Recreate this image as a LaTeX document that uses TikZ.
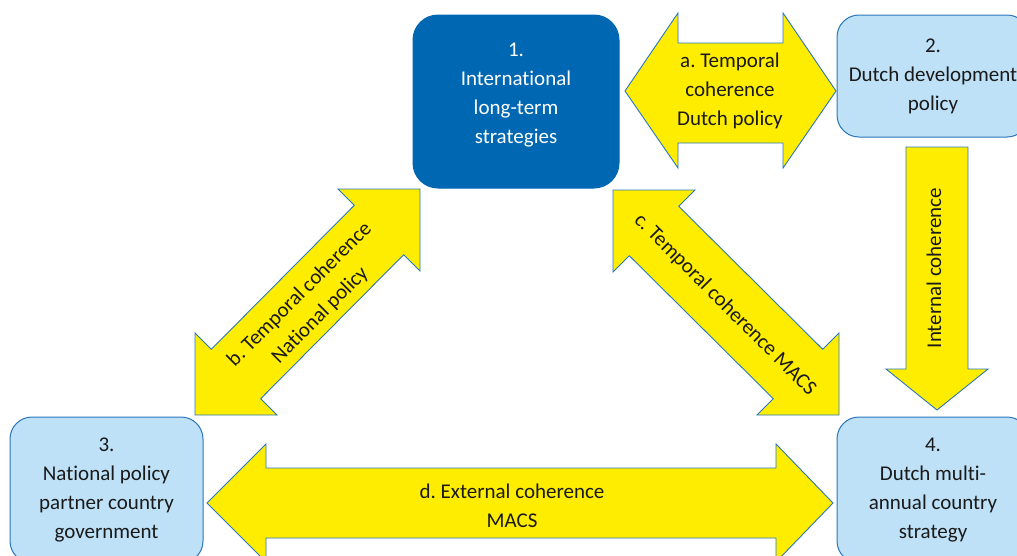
\documentclass[tikz,border=0pt]{standalone}
\usepackage{fontspec}
\setmainfont{Carlito}[Ligatures=NoCommon]
\frenchspacing
\definecolor{yel}{HTML}{FFED00}
\definecolor{edge}{HTML}{2A76BE}
\definecolor{dkblue}{HTML}{0067B3}
\definecolor{ltblue}{HTML}{BEE1F7}
\definecolor{txt}{HTML}{1A1A1A}
\tikzset{
  blockarrow/.style={fill=yel, draw=edge, line width=0.9pt, line join=miter},
  lightbox/.style={rectangle, rounded corners=22pt, fill=ltblue, draw=edge, line width=1pt, align=center, text=txt, inner sep=0pt},
  darkbox/.style={rectangle, rounded corners=25pt, fill=dkblue, draw=dkblue, line width=1pt, align=center, text=white, inner sep=0pt},
  lbl/.style={align=center, text=txt, inner sep=0pt},
}
\begin{document}
\begin{tikzpicture}[x=1pt,y=-1pt,font=\fontsize{21}{29}\selectfont]
\useasboundingbox (0,0) rectangle (1017,555);
\clip (0,0) rectangle (1017,555);
% boxes
\node[darkbox, minimum width=206pt, minimum height=173pt] (b1) at (516,101.5) {};
\node[text=white, align=center, inner sep=0pt] (t1) at (516,95) {1.\\International\\long-term\\strategies};
\node[lightbox, minimum width=192pt, minimum height=122pt] (b2) at (933,76) {2.\\Dutch development\\policy};
\node[lightbox, minimum width=193pt, minimum height=146pt] (b3) at (106.5,490) {3.\\National policy\\partner country\\government};
\node[lightbox, minimum width=192pt, minimum height=146pt] (b4) at (933,490) {4.\\Dutch multi-\\annual country\\strategy};
% arrow a
\draw[blockarrow] (625,91) -- (678,13) -- (678,43) -- (783,43) -- (783,13) -- (836,91) -- (783,168) -- (783,143) -- (678,143) -- (678,168) -- cycle;
\node[lbl] (ta) at (730,91) {a. Temporal\\coherence\\Dutch policy};
% arrow d
\draw[blockarrow] (207,503) -- (266,444) -- (266,468) -- (776,468) -- (776,444) -- (833,503) -- (776,562) -- (776,538) -- (266,538) -- (266,562) -- cycle;
\node[lbl] (td) at (512,506) {d. External coherence\\MACS};
% arrow b
\draw[blockarrow] (420,189) -- (420,271) -- (403.7,254.7) -- (260.7,398.7) -- (277,415) -- (195,415) -- (195,333) -- (211.3,349.3) -- (354.3,205.3) -- (338,189) -- cycle;
\node[lbl, rotate=45] (tb) at (310,305) {b. Temporal coherence\\National policy};
% arrow c
\draw[blockarrow] (613,190) -- (695,190) -- (678.7,206.3) -- (822.7,349.3) -- (839,333) -- (839,415) -- (757,415) -- (773.3,398.7) -- (629.3,255.7) -- (613,272) -- cycle;
\node[lbl, rotate=-45] (tc) at (725,305) {c. Temporal coherence MACS};
% internal arrow
\draw[blockarrow] (906,147) -- (968,147) -- (968,369) -- (988,369) -- (937,410) -- (886,369) -- (906,369) -- cycle;
\node[lbl, rotate=90] (ti) at (934,268) {Internal coherence};
\end{tikzpicture}
\end{document}
